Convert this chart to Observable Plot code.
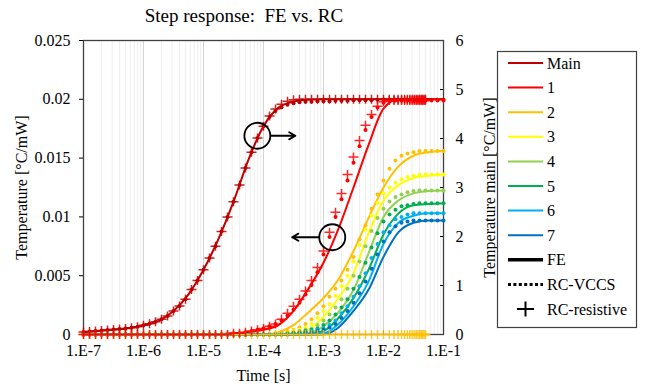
<!DOCTYPE html>
<html>
<head>
<meta charset="utf-8">
<script src="https://cdn.jsdelivr.net/npm/d3@7"></script>
<script src="https://cdn.jsdelivr.net/npm/@observablehq/plot@0.6"></script>
<style>
  body { margin: 0; background: #fff; }
  #wrap { position: relative; width: 649px; height: 386px; font-family: "Liberation Serif", "Times New Roman", serif; color: #000; }
  #title { position: absolute; left: 0; top: 6px; width: 488px; text-align: center; font-size: 19px; line-height: 20px; white-space: pre; }
  #chart { position: absolute; left: 0; top: 0; }
  #legend { position: absolute; left: 0; top: 0; pointer-events: none; }
  #chart svg, #chart svg text, #legend text { font-family: "Liberation Serif", "Times New Roman", serif !important; }
  #chart svg text { font-size: 16px; }
</style>
</head>
<body>
<div id="wrap">
  <div id="chart"></div>
  <div id="title">Step response:  FE vs. RC</div>
  <svg id="legend" width="649" height="386"></svg>
</div>
<script>
// ---------- data ----------
const seriesNames  = ["Main", "1", "2", "3", "4", "5", "6", "7"];
const seriesColors = ["#C00000", "#FF0000", "#FFC000", "#FFFF00", "#92D050", "#00B050", "#00B0F0", "#0070C0"];
const methodNames  = ["FE", "RC-VCCS", "RC-resistive"];

const leftTicks  = [0, 0.005, 0.01, 0.015, 0.02, 0.025];   // Temperature [°C/mW]
const rightTicks = [0, 1, 2, 3, 4, 5, 6];                   // Temperature main [°C/mW]
const xDecades   = [1e-7, 1e-6, 1e-5, 1e-4, 1e-3, 1e-2, 1e-1];

// FE (solid lines): log10(time) grid
const feExp = [-7,-6.75,-6.5,-6.25,-6,-5.75,-5.5,-5.25,-5,-4.75,-4.5,-4.25,-4,-3.75,-3.5,-3.25,-3,-2.75,-2.5,-2.25,-2,-1.75,-1.5,-1.25,-1];
const feMain = [0.05,0.07,0.10,0.13,0.19,0.28,0.48,0.82,1.32,1.95,2.71,3.57,4.25,4.63,4.75,4.79,4.80,4.80,4.80,4.80,4.80,4.80,4.80,4.80,4.80]; // right axis
const fe1 = [0,0,0,0,0,0,0,0,0,0.00003,0.0001,0.0002,0.0004,0.0008,0.0020,0.0039,0.0061,0.0090,0.0125,0.0161,0.0192,0.0200,0.0200,0.0200,0.0200];
const fe2 = [0,0,0,0,0,0,0,0,0,0,0,0,0,0.0002,0.0008,0.0019,0.0031,0.0047,0.0071,0.0099,0.0125,0.0143,0.0152,0.0155,0.0156];
const fe3 = [0,0,0,0,0,0,0,0,0,0,0,0,0,0,0.0001,0.0004,0.0015,0.0031,0.0052,0.0086,0.0114,0.0127,0.0133,0.0135,0.0136];
const fe4 = [0,0,0,0,0,0,0,0,0,0,0,0,0,0,0,0.0001,0.0007,0.0019,0.0038,0.0069,0.0100,0.0114,0.0120,0.0122,0.01225];
const fe5 = [0,0,0,0,0,0,0,0,0,0,0,0,0,0,0,0.00005,0.0003,0.0014,0.0031,0.0055,0.0085,0.0103,0.0110,0.0111,0.01117];
const fe6 = [0,0,0,0,0,0,0,0,0,0,0,0,0,0,0,0,0.0001,0.0009,0.0024,0.0045,0.0077,0.0095,0.0101,0.0103,0.0103];
const fe7 = [0,0,0,0,0,0,0,0,0,0,0,0,0,0,0,0,0,0.0006,0.0020,0.0038,0.0066,0.0087,0.0095,0.0097,0.0097];

// RC-VCCS (dots): log10(time) grid
const rcExp = [-7,-6.9,-6.8,-6.7,-6.6,-6.5,-6.4,-6.3,-6.2,-6.1,-6,-5.9,-5.8,-5.7,-5.6,-5.5,-5.4,-5.3,-5.2,-5.1,-5,-4.9,-4.8,-4.7,-4.6,-4.5,-4.4,-4.3,-4.2,-4.1,-4,-3.9,-3.8,-3.7,-3.6,-3.5,-3.4,-3.3,-3.2,-3.1,-3,-2.9,-2.8,-2.7,-2.6,-2.5,-2.4,-2.3,-2.2,-2.1,-2,-1.9,-1.8,-1.7,-1.6,-1.5,-1.4,-1.3,-1.2,-1.1,-1];
const rcMain = [0.05,0.06,0.07,0.08,0.09,0.10,0.11,0.12,0.14,0.16,0.19,0.22,0.26,0.31,0.38,0.48,0.58,0.72,0.92,1.10,1.32,1.56,1.80,2.10,2.40,2.71,3.05,3.40,3.72,4.01,4.25,4.44,4.56,4.64,4.69,4.72,4.74,4.75,4.75,4.76,4.76,4.76,4.77,4.77,4.77,4.78,4.78,4.78,4.78,4.79,4.79,4.79,4.79,4.79,4.79,4.79,4.79,4.79,4.79,4.79,4.79]; // right axis
const rc1 = [0,0,0,0,0,0,0,0,0,0,0,0,0,0,0,0,0,0,0,0,0,0,0,0,0,0.0001,0.0001,0.0002,0.0003,0.0004,0.0005,0.0007,0.0009,0.0012,0.0016,0.0021,0.0027,0.0034,0.0042,0.0053,0.0068,0.0083,0.0100,0.0115,0.0131,0.0146,0.0160,0.0174,0.0185,0.0193,0.0197,0.0199,0.0199,0.0199,0.0199,0.0199,0.0199,0.0199,0.0199,0.0199,0.0199];
const rc2 = [0,0,0,0,0,0,0,0,0,0,0,0,0,0,0,0,0,0,0,0,0,0,0,0,0,0,0,0,0,0,0,0,0.0001,0.0002,0.0003,0.0004,0.0006,0.0009,0.0013,0.0018,0.0024,0.0032,0.0039,0.0046,0.0055,0.0066,0.0081,0.0093,0.0107,0.0119,0.0131,0.0141,0.0148,0.0152,0.0154,0.0155,0.0156,0.0156,0.0156,0.0156,0.0156];
const rc3 = [0,0,0,0,0,0,0,0,0,0,0,0,0,0,0,0,0,0,0,0,0,0,0,0,0,0,0,0,0,0,0,0,0.0001,0.0001,0.0002,0.0003,0.0004,0.0006,0.0009,0.0014,0.0020,0.0026,0.0033,0.0041,0.0050,0.0062,0.0076,0.0089,0.0101,0.0112,0.0120,0.0125,0.0129,0.0132,0.0134,0.0135,0.0136,0.0136,0.0136,0.0136,0.0136];
const rc4 = [0,0,0,0,0,0,0,0,0,0,0,0,0,0,0,0,0,0,0,0,0,0,0,0,0,0,0,0,0,0,0,0,0,0.0001,0.0001,0.0002,0.0003,0.0004,0.0005,0.0008,0.0012,0.0017,0.0023,0.0030,0.0039,0.0050,0.0062,0.0075,0.0088,0.0099,0.0107,0.0113,0.0117,0.0119,0.0121,0.0122,0.01225,0.01225,0.01225,0.01225,0.01225];
const rc5 = [0,0,0,0,0,0,0,0,0,0,0,0,0,0,0,0,0,0,0,0,0,0,0,0,0,0,0,0,0,0,0,0,0,0,0.0001,0.0001,0.0002,0.0003,0.0004,0.0005,0.0008,0.0012,0.0017,0.0023,0.0030,0.0039,0.0049,0.0061,0.0074,0.0086,0.0096,0.0102,0.0106,0.0109,0.0110,0.0111,0.01117,0.01117,0.01117,0.01117,0.01117];
const rc6 = [0,0,0,0,0,0,0,0,0,0,0,0,0,0,0,0,0,0,0,0,0,0,0,0,0,0,0,0,0,0,0,0,0,0,0,0.0001,0.0001,0.0002,0.0003,0.0004,0.0005,0.0008,0.0012,0.0018,0.0024,0.0032,0.0041,0.0052,0.0065,0.0077,0.0087,0.0093,0.0098,0.0100,0.0102,0.0103,0.0103,0.0103,0.0103,0.0103,0.0103];
const rc7 = [0,0,0,0,0,0,0,0,0,0,0,0,0,0,0,0,0,0,0,0,0,0,0,0,0,0,0,0,0,0,0,0,0,0,0,0.0001,0.0001,0.0002,0.0002,0.0003,0.0004,0.0006,0.0009,0.0014,0.0020,0.0027,0.0035,0.0045,0.0056,0.0068,0.0079,0.0087,0.0092,0.0095,0.0096,0.0097,0.0097,0.0097,0.0097,0.0097,0.0097];

// RC-resistive (plus markers): log10(time) grid up to 1E-2, then a linear tail in seconds
const resExp = [-7,-6.9,-6.8,-6.7,-6.6,-6.5,-6.4,-6.3,-6.2,-6.1,-6,-5.9,-5.8,-5.7,-5.6,-5.5,-5.4,-5.3,-5.2,-5.1,-5,-4.9,-4.8,-4.7,-4.6,-4.5,-4.4,-4.3,-4.2,-4.1,-4,-3.9,-3.8,-3.7,-3.6,-3.5,-3.4,-3.3,-3.2,-3.1,-3,-2.9,-2.8,-2.7,-2.6,-2.5,-2.4,-2.3,-2.2,-2.1,-2];
const resTailTime = [0.0125,0.015,0.0175,0.02,0.0225,0.025,0.0275,0.03,0.0325,0.035,0.0375,0.04,0.0425,0.045,0.0475,0.05];
const resMain = [0.05,0.06,0.07,0.08,0.09,0.10,0.11,0.12,0.14,0.16,0.19,0.22,0.26,0.31,0.38,0.48,0.58,0.72,0.92,1.10,1.32,1.56,1.80,2.10,2.40,2.71,3.05,3.40,3.72,4.01,4.25,4.46,4.60,4.70,4.76,4.79,4.80,4.80,4.80,4.80,4.80,4.80,4.80,4.80,4.80,4.80,4.80,4.80,4.80,4.80,4.80,
                 4.80,4.80,4.80,4.80,4.80,4.80,4.80,4.80,4.80,4.80,4.80,4.80,4.80,4.80,4.80,4.80]; // right axis
const res1 = [0,0,0,0,0,0,0,0,0,0,0,0,0,0,0,0,0,0,0,0,0,0,0,0,0,0.0001,0.0001,0.0002,0.0003,0.0004,0.0005,0.0007,0.0009,0.0013,0.0018,0.0024,0.0030,0.0037,0.0046,0.0057,0.0071,0.0087,0.0104,0.0120,0.0136,0.0151,0.0165,0.0178,0.0187,0.0194,0.0198,
              0.0199,0.0199,0.0199,0.0199,0.0199,0.0199,0.0199,0.0199,0.0199,0.0199,0.0199,0.0199,0.0199,0.0199,0.0199,0.0199];
const res2 = [0,0,0,0,0,0,0,0,0,0,0,0,0,0,0,0,0,0,0,0,0,0,0,0,0,0,0,0,0,0,0,0,0,0,0,0,0,0,0,0,0,0,0,0,0,0,0,0,0,0,0,
              0,0,0,0,0,0,0,0,0,0,0,0,0,0,0,0];

// annotation circles and arrows (data coordinates)
const noteCircleT = [7.9e-5, 1.4e-3];
const noteCircleV = [0.0169, 0.00827];
const noteArrowT1 = [1.32e-4, 8.3e-4];
const noteArrowT2 = [3.4e-4, 3.0e-4];
const noteArrowV  = [0.0169, 0.00827];

// ---------- build tables ----------
const leftMax = 0.025, rightMax = 6;
const mainScale = leftMax / rightMax;        // right-axis units -> left-axis units
const colorOf = Object.fromEntries(seriesNames.map((n, i) => [n, seriesColors[i]]));

const feSeries = [feMain, fe1, fe2, fe3, fe4, fe5, fe6, fe7];
const rcSeries = [rcMain, rc1, rc2, rc3, rc4, rc5, rc6, rc7];
const feRows = [], rcRows = [], resRows = [];
feSeries.forEach((vals, i) => feExp.forEach((e, j) =>
  feRows.push({series: seriesNames[i], t: Math.pow(10, e), v: i === 0 ? vals[j] * mainScale : vals[j]})));
rcSeries.forEach((vals, i) => rcExp.forEach((e, j) =>
  rcRows.push({series: seriesNames[i], t: Math.pow(10, e), v: i === 0 ? vals[j] * mainScale : vals[j]})));
const resTimes = resExp.map(e => Math.pow(10, e)).concat(resTailTime);
[[res2, "2"], [resMain, "Main"], [res1, "1"]].forEach(([vals, name]) => resTimes.forEach((t, j) =>
  resRows.push({series: name, t, v: name === "Main" ? vals[j] * mainScale : vals[j]})));

const minorTicks = xDecades.slice(0, -1).flatMap(d => [2, 3, 4, 5, 6, 7, 8, 9].map(m => m * d));
const plusSymbol = {draw(ctx) { ctx.moveTo(-5, 0); ctx.lineTo(5, 0); ctx.moveTo(0, -4.5); ctx.lineTo(0, 4.5); }};
const fmtLeft = v => v === 0 ? "0" : String(+v.toFixed(3));
const fmtX = v => "1.E" + Math.round(Math.log10(v));
const serif = "'Liberation Serif', 'Times New Roman', serif";

const chart = Plot.plot({
  width: 649, height: 386,
  marginLeft: 83, marginRight: 206, marginTop: 40, marginBottom: 52,
  style: {fontFamily: serif, fontSize: "16px", color: "#000", background: "transparent"},
  x: {type: "log", domain: [xDecades[0], xDecades[xDecades.length - 1]]},
  y: {domain: [0, leftMax]},
  color: {type: "identity"},
  marks: [
    Plot.ruleX(minorTicks, {stroke: "#eeeeee", strokeWidth: 1}),
    Plot.ruleX(xDecades, {stroke: "#d4d4d4", strokeWidth: 1}),
    Plot.axisX({ticks: xDecades, tickFormat: fmtX, tickSize: -4, tickPadding: 14, fontFamily: serif, fontSize: 16,
                label: "Time [s]", labelAnchor: "center", labelArrow: "none", labelOffset: 46}),
    Plot.axisY({ticks: leftTicks, tickFormat: fmtLeft, tickSize: 4, tickPadding: 9, fontFamily: serif, fontSize: 16,
                label: "Temperature [°C/mW]", labelAnchor: "center", labelArrow: "none", labelOffset: 68}),
    Plot.axisY({anchor: "right", ticks: rightTicks.map(v => v * mainScale), tickFormat: v => String(Math.round(v / mainScale)),
                tickSize: -4, tickPadding: 16, fontFamily: serif, fontSize: 16,
                label: "Temperature main [°C/mW]", labelAnchor: "center", labelArrow: "none", labelOffset: 51}),
    Plot.frame({stroke: "#404040", strokeWidth: 1.3}),
    Plot.line(feRows, {x: "t", y: "v", z: "series", stroke: d => colorOf[d.series], strokeWidth: 2, curve: "monotone-x"}),
    Plot.dot(rcRows, {x: "t", y: "v", fill: d => colorOf[d.series], r: 2, stroke: null}),
    Plot.dot(resRows, {x: "t", y: "v", stroke: d => colorOf[d.series], symbol: plusSymbol, fill: "none", strokeWidth: 1.5, strokeOpacity: 0.85}),
    Plot.dot(noteCircleT.map((t, i) => ({t, v: noteCircleV[i]})), {x: "t", y: "v", r: 13, stroke: "#000", strokeWidth: 1.8, fill: "none"}),
    Plot.arrow(noteArrowT1.map((t, i) => ({t1: t, t2: noteArrowT2[i], v: noteArrowV[i]})),
               {x1: "t1", x2: "t2", y1: "v", y2: "v", stroke: "#000", strokeWidth: 1.8, headLength: 6})
  ]
});
document.getElementById("chart").appendChild(chart);

// ---------- legend ----------
const legend = d3.select("#legend");
const legendLabels = seriesNames.concat(methodNames);
legend.append("rect").attr("x", 497.5).attr("y", 51.5).attr("width", 139).attr("height", 276)
  .attr("fill", "#fff").attr("stroke", "#404040").attr("stroke-width", 1.2);
legendLabels.forEach((label, i) => {
  const y = 63 + i * 24.6;
  if (i < seriesNames.length) {
    legend.append("line").attr("x1", 508).attr("x2", 543).attr("y1", y).attr("y2", y)
      .attr("stroke", seriesColors[i]).attr("stroke-width", 2);
  } else if (label === "FE") {
    legend.append("line").attr("x1", 508).attr("x2", 543).attr("y1", y).attr("y2", y)
      .attr("stroke", "#000").attr("stroke-width", 3.5);
  } else if (label === "RC-VCCS") {
    legend.append("line").attr("x1", 508).attr("x2", 543).attr("y1", y).attr("y2", y)
      .attr("stroke", "#000").attr("stroke-width", 3).attr("stroke-dasharray", "3,2.4");
  } else {
    legend.append("path").attr("d", `M${517},${y}h17M${525.5},${y - 7.5}v15`)
      .attr("stroke", "#000").attr("stroke-width", 2).attr("fill", "none");
  }
  legend.append("text").attr("x", 547).attr("y", y).attr("dy", "0.35em")
    .attr("font-family", serif).attr("font-size", 16)
    .text(label);
});
</script>
</body>
</html>
